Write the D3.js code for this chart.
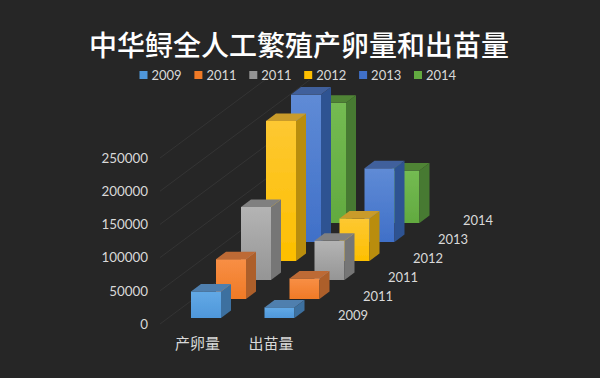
<!DOCTYPE html>
<html><head><meta charset="utf-8">
<script src="https://cdn.jsdelivr.net/npm/d3@7"></script>
<style>
html,body{margin:0;padding:0;background:#262626}
svg{display:block}
text{font-family:Lato,"Noto Sans CJK SC",sans-serif}
</style></head><body>
<svg id="c" width="600" height="378"></svg>
<script>
const title = "中华鲟全人工繁殖产卵量和出苗量";
const categories = ["产卵量", "出苗量"];
const seriesNames = ["2009", "2011", "2011", "2012", "2013", "2014"];
const seriesKeys = ["s2009", "s2011a", "s2011b", "s2012", "s2013", "s2014"];
const eggValues = [40000, 60000, 110000, 211000, 222000, 181000];
const fryValues = [16000, 31000, 59000, 64000, 111000, 79000];
const yTicks = [0, 50000, 100000, 150000, 200000, 250000];
const frontColorsTop = ["#62a9e6", "#f88f45", "#b4b4b4", "#fdc832", "#5f8bd6", "#74bb52"];
const frontColorsBottom = ["#4f97da", "#f07a26", "#959595", "#fdbf00", "#4070c8", "#62aa40"];
const sideColors = ["#3c709f", "#ad5f2b", "#767676", "#b98d0e", "#2f5392", "#477a30"];
const topColors = ["#4f7fae", "#bd6a36", "#808080", "#c99b2a", "#40609c", "#4f8436"];

const svg = d3.select("#c");
const defs = svg.append("defs");
seriesKeys.forEach((k, i) => {
  const g = defs.append("linearGradient").attr("id", "g" + i)
    .attr("x1", 0).attr("y1", 0).attr("x2", 0).attr("y2", 1);
  g.append("stop").attr("offset", 0).attr("stop-color", frontColorsTop[i]);
  g.append("stop").attr("offset", 1).attr("stop-color", frontColorsBottom[i]);
});
defs.append("clipPath").attr("id", "gridClip").append("rect")
  .attr("x", 0).attr("y", 80).attr("width", 600).attr("height", 298);
defs.append("filter").attr("id", "soft").append("feGaussianBlur").attr("stdDeviation", 0.35);

// height scale: value -> pixels upward
const y = d3.scaleLinear().domain([0, 250000]).range([324, 158]);
const h = v => y(0) - y(v);
// category position along the front edge
const x = d3.scaleBand().domain(categories).range([169.25, 316.25]);
// series position along the receding depth axis
const depthX = d3.scalePoint().domain(seriesKeys).range([0, 125]);
const depthY = d3.scalePoint().domain(seriesKeys).range([318, 223]);

const barW = 30, capX = 10, capY = 7.5;

// grid lines, receding to the upper right
const gridDX = 156, gridDY = -116;
svg.append("g").attr("clip-path", "url(#gridClip)")
  .selectAll("line").data(yTicks).join("line")
  .attr("x1", 160).attr("y1", d => y(d))
  .attr("x2", 160 + gridDX).attr("y2", d => y(d) + gridDY)
  .attr("stroke", "#343434").attr("stroke-width", 1);

// y labels
const yAxis = svg.append("g");
yAxis.selectAll("text").data(yTicks).join("text")
  .attr("x", 148).attr("y", d => y(d)).attr("dy", "0.36em")
  .attr("text-anchor", "end").attr("font-size", 13.4).attr("fill", "#d9d9d9")
  .text(d => d);

// bars, painted from back to front
const rows = [];
seriesKeys.forEach((k, i) => {
  rows.push({ k, i, cat: categories[0], v: eggValues[i] });
  rows.push({ k, i, cat: categories[1], v: fryValues[i] });
});
rows.sort((a, b) => b.i - a.i);
const bars = svg.append("g").attr("filter", "url(#soft)");
rows.forEach(r => {
  const x0 = x(r.cat) + (x.bandwidth() - barW) / 2 + depthX(r.k);
  const yb = depthY(r.k), yt = yb - h(r.v);
  const g = bars.append("g");
  g.append("rect").attr("x", x0).attr("y", yt).attr("width", barW).attr("height", yb - yt)
    .attr("fill", `url(#g${r.i})`);
  g.append("path").attr("fill", sideColors[r.i])
    .attr("d", d3.line()([[x0 + barW, yt], [x0 + barW + capX, yt - capY], [x0 + barW + capX, yb - capY], [x0 + barW, yb]]) + "Z");
  g.append("path").attr("fill", topColors[r.i])
    .attr("d", d3.line()([[x0, yt], [x0 + capX, yt - capY], [x0 + barW + capX, yt - capY], [x0 + barW, yt]]) + "Z");
});

// category labels
svg.append("g").selectAll("text").data(categories).join("text")
  .attr("x", d => x(d) + x.bandwidth() / 2 - 8.5).attr("y", 344).attr("dy", "0.36em")
  .attr("text-anchor", "middle").attr("font-size", 15).attr("fill", "#d9d9d9")
  .style("font-family", '"Noto Sans CJK SC"')
  .text(d => d);

// depth labels
const depthLabelX = d3.scalePoint().domain(seriesKeys).range([353, 478]);
const depthLabelY = d3.scalePoint().domain(seriesKeys).range([315, 220.5]);
svg.append("g").selectAll("text").data(seriesKeys).join("text")
  .attr("x", d => depthLabelX(d)).attr("y", d => depthLabelY(d)).attr("dy", "0.36em")
  .attr("text-anchor", "middle").attr("font-size", 13).attr("fill", "#d9d9d9")
  .text((d, i) => seriesNames[i]);

// legend
const legendX = d3.scalePoint().domain(seriesKeys).range([139.5, 414]);
const lg = svg.append("g").selectAll("g").data(seriesKeys).join("g")
  .attr("transform", d => `translate(${legendX(d)},75)`);
lg.append("rect").attr("x", 0).attr("y", -4).attr("width", 8).attr("height", 8)
  .attr("fill", (d, i) => frontColorsBottom[i]);
lg.append("text").attr("x", 12).attr("dy", "0.36em").attr("font-size", 13).attr("fill", "#d9d9d9")
  .text((d, i) => seriesNames[i]);

// title
svg.append("text").attr("x", 299).attr("y", 46).attr("dy", "0.36em")
  .attr("text-anchor", "middle").attr("font-size", 28).attr("fill", "#ffffff")
  .attr("font-weight", 500).style("font-family", '"Noto Sans CJK SC"')
  .text(title);
</script>
</body></html>
